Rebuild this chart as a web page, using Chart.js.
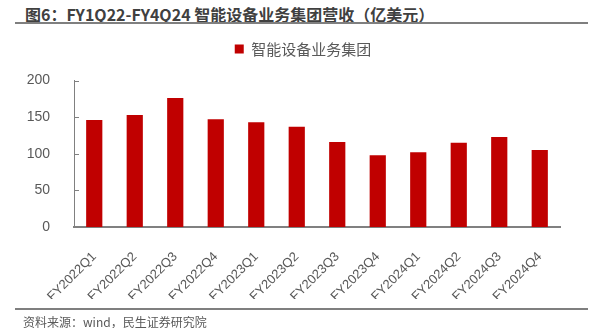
<!DOCTYPE html>
<html>
<head>
<meta charset="utf-8">
<script src="https://cdn.jsdelivr.net/npm/chart.js@4.4.1/dist/chart.umd.min.js"></script>
<style>
  body { margin: 0; background: #fff; }
  #wrap { position: relative; width: 602px; height: 328px; overflow: hidden; }
  #chart { position: absolute; left: 0; top: 0; }
  .title { position: absolute; left: 25px; top: 4px; font: bold 16px/20px "Noto Sans CJK SC", sans-serif; color: #404040; white-space: nowrap; }
  .rule { position: absolute; left: 15px; width: 573px; height: 2px; background: #7f7f7f; }
  .source { position: absolute; left: 23px; top: 313px; font: 12px/18px "Noto Sans CJK SC", sans-serif; color: #595959; white-space: nowrap; }
</style>
</head>
<body>
<div id="wrap">
  <div class="title">图6：FY1Q22-FY4Q24 智能设备业务集团营收（亿美元）</div>
  <div class="rule" style="top:22px"></div>
  <canvas id="chart" width="602" height="328"></canvas>
  <div class="rule" style="top:308px"></div>
  <div class="source">资料来源：wind，民生证券研究院</div>
</div>
<script>
const quarters = ['FY2022Q1', 'FY2022Q2', 'FY2022Q3', 'FY2022Q4',
                  'FY2023Q1', 'FY2023Q2', 'FY2023Q3', 'FY2023Q4',
                  'FY2024Q1', 'FY2024Q2', 'FY2024Q3', 'FY2024Q4'];
const revenue = [146, 153, 176, 147, 143, 137, 116, 98, 102, 115, 123, 105];
const yTicks = [0, 50, 100, 150, 200];
const seriesName = '智能设备业务集团';

Chart.defaults.font.family = '"Liberation Sans", "Noto Sans CJK SC", sans-serif';
Chart.defaults.color = '#595959';

// small ticks on the inner side of the y axis
const innerTicks = {
  id: 'innerTicks',
  afterDatasetsDraw(chart) {
    const y = chart.scales.y;
    const ctx = chart.ctx;
    ctx.save();
    ctx.strokeStyle = '#808080';
    ctx.lineWidth = 1;
    y.ticks.forEach(t => {
      const py = Math.round(y.getPixelForValue(t.value)) + 0.5;
      ctx.beginPath();
      ctx.moveTo(y.right, py);
      ctx.lineTo(y.right + 5, py);
      ctx.stroke();
    });
    ctx.restore();
  }
};

// extra room under the legend, and centre it a bit right of the page middle
const legendGap = {
  id: 'legendGap',
  beforeInit(chart) {
    const fit = chart.legend.fit;
    chart.legend.fit = function () {
      fit.bind(chart.legend)();
      this.height += 14;
    };
  },
  afterLayout(chart) {
    chart.legend.left = 46;
  }
};

new Chart(document.getElementById('chart'), {
  type: 'bar',
  data: {
    labels: quarters,
    datasets: [{
      label: seriesName,
      data: revenue,
      backgroundColor: '#C00000',
      borderWidth: 0,
      barPercentage: 0.4,
      categoryPercentage: 1
    }]
  },
  options: {
    responsive: false,
    animation: false,
    devicePixelRatio: 1,
    layout: { padding: { left: 0, right: 42, top: 31.5, bottom: 29 } },
    plugins: {
      legend: {
        position: 'top',
        labels: {
          boxWidth: 9,
          boxHeight: 9,
          padding: 10,
          color: '#595959',
          font: { family: '"Noto Sans CJK SC", sans-serif', size: 15 }
        }
      },
      tooltip: { enabled: false }
    },
    scales: {
      x: {
        grid: { display: false },
        border: { display: true, color: '#808080', width: 2 },
        ticks: {
          maxRotation: 45,
          minRotation: 45,
          padding: 14,
          color: '#595959',
          font: { size: 13 }
        },
        afterFit(scale) { scale.height = 72; }
      },
      y: {
        min: 0,
        max: 200,
        grid: { display: false },
        border: { display: true, color: '#808080', width: 1 },
        ticks: {
          padding: 16,
          color: '#595959',
          font: { size: 14 }
        },
        afterBuildTicks(scale) { scale.ticks = yTicks.map(v => ({ value: v })); },
        afterFit(scale) { scale.width = 74; }
      }
    }
  },
  plugins: [innerTicks, legendGap]
});
</script>
</body>
</html>
